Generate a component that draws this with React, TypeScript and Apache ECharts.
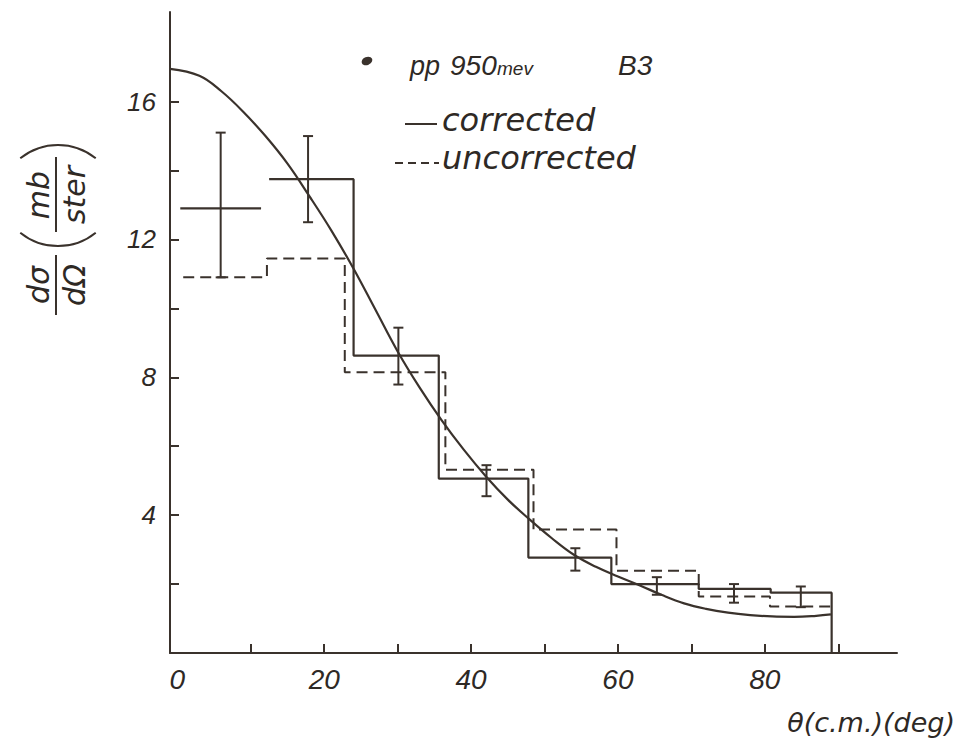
import React, { useEffect, useRef } from "react";
import * as echarts from "echarts";

// ---- data ----
const xTickValues = [10, 20, 30, 40, 50, 60, 70, 80, 90];
const xLabelValues = [0, 20, 40, 60, 80];
const yTickValues = [2, 4, 6, 8, 10, 12, 14, 16];
const yLabelValues = [4, 8, 12, 16];

// fitted smooth curve
const curveX = [-1, 3, 6, 9, 12, 15, 18, 21, 24, 27, 30, 33, 36, 39, 42, 45, 48, 51, 54, 57, 60, 63, 66, 69, 72, 75, 78, 81, 84, 87, 89];
const curveY = [16.95, 16.75, 16.3, 15.7, 15.0, 14.2, 13.25, 12.25, 11.15, 9.95, 8.75, 7.7, 6.75, 5.9, 5.13, 4.45, 3.87, 3.33, 2.85, 2.5, 2.22, 1.96, 1.68, 1.44, 1.28, 1.17, 1.1, 1.06, 1.05, 1.08, 1.12];

// corrected histogram (solid)
const corrEdges = [12.5, 24, 35.6, 47.8, 59.1, 71, 80.8, 89.1];
const corrValues = [13.75, 8.63, 5.06, 2.77, 2.0, 1.86, 1.75];

// uncorrected histogram (dashed)
const uncEdges = [0.8, 12.2, 22.8, 36.5, 48.5, 59.8, 71, 80.7, 89.1];
const uncValues = [10.9, 11.45, 8.15, 5.32, 3.58, 2.39, 1.64, 1.35];

// error bars
const errX = [5.9, 17.8, 30.1, 42.1, 54.2, 65.3, 75.8, 84.9];
const errLow = [10.9, 12.5, 7.79, 4.55, 2.39, 1.69, 1.46, 1.33];
const errHigh = [15.1, 15.0, 9.44, 5.45, 3.04, 2.2, 2.0, 1.93];

// horizontal bar of the first point (cross)
const crossXLow = [0.4];
const crossXHigh = [11.4];
const crossY = [12.9];

const INK = "#3a322c";
const TEXT = "#2e2925";
const FONT = "DejaVu Sans";
const TICKFONT = "Liberation Sans";

function histPoints(edges: number[], values: number[], dropToZero: boolean) {
  const pts: number[][] = [];
  for (let i = 0; i < values.length; i++) {
    pts.push([edges[i], values[i]]);
    pts.push([edges[i + 1], values[i]]);
  }
  if (dropToZero) pts.push([edges[edges.length - 1], 0]);
  return pts;
}

export default function App() {
  const ref = useRef<HTMLDivElement>(null);

  useEffect(() => {
    document.body.style.margin = "0";
    const chart = echarts.init(ref.current!, null, { renderer: "svg" });

    const italic = (size: number, fam: string = FONT) => `italic ${size}px "${fam}"`;
    const txt = (text: string, x: number, y: number, size: number, align: string, valign: string, fam: string = FONT) => ({
      type: "text",
      style: {
        text,
        x,
        y,
        font: italic(size, fam),
        fill: TEXT,
        textAlign: align,
        textVerticalAlign: valign,
        align,
        verticalAlign: valign,
      },
    });

    const option: any = {
      animation: false,
      backgroundColor: "#ffffff",
      grid: { left: 170, right: 65, top: 12, bottom: 97, containLabel: false },
      xAxis: {
        type: "value",
        min: -1,
        max: 98,
        axisLine: { show: true, onZero: false, lineStyle: { color: INK, width: 2 } },
        axisTick: { show: true, inside: true, length: 9, customValues: xTickValues, lineStyle: { color: INK, width: 2 } },
        axisLabel: {
          show: true,
          customValues: xLabelValues,
          margin: 12,
          color: TEXT,
          fontSize: 28,
          fontStyle: "italic",
          fontFamily: TICKFONT,
        },
        splitLine: { show: false },
      },
      yAxis: {
        type: "value",
        min: 0,
        max: 18.6,
        axisLine: { show: true, onZero: false, lineStyle: { color: INK, width: 2 } },
        axisTick: { show: true, inside: true, length: 9, customValues: yTickValues, lineStyle: { color: INK, width: 2 } },
        axisLabel: {
          show: true,
          customValues: yLabelValues,
          margin: 14,
          color: TEXT,
          fontSize: 26,
          fontStyle: "italic",
          fontFamily: TICKFONT,
        },
        splitLine: { show: false },
      },
      series: [
        {
          name: "fit",
          type: "line",
          data: curveX.map((x, i) => [x, curveY[i]]),
          smooth: 0.4,
          showSymbol: false,
          lineStyle: { color: INK, width: 2.2 },
          z: 3,
        },
        {
          name: "corrected",
          type: "line",
          data: histPoints(corrEdges, corrValues, true),
          showSymbol: false,
          lineStyle: { color: INK, width: 2.2 },
          z: 2,
        },
        {
          name: "uncorrected",
          type: "line",
          data: histPoints(uncEdges, uncValues, false),
          showSymbol: false,
          lineStyle: { color: INK, width: 2, type: [11, 6] },
          z: 2,
        },
        {
          name: "cross",
          type: "line",
          data: [
            [crossXLow[0], crossY[0]],
            [crossXHigh[0], crossY[0]],
          ],
          showSymbol: false,
          lineStyle: { color: INK, width: 2.2 },
          z: 4,
        },
        {
          name: "errors",
          type: "custom",
          data: errX.map((x, i) => [x, errLow[i], errHigh[i]]),
          encode: { x: 0, y: [1, 2] },
          z: 4,
          renderItem: (params: any, api: any) => {
            const x = api.value(0);
            const lo = api.value(1);
            const hi = api.value(2);
            const a = api.coord([x, lo]);
            const b = api.coord([x, hi]);
            const style = { stroke: INK, lineWidth: 2 };
            return {
              type: "group",
              children: [
                { type: "line", shape: { x1: a[0], y1: a[1], x2: b[0], y2: b[1] }, style },
                { type: "line", shape: { x1: b[0] - 5, y1: b[1], x2: b[0] + 5, y2: b[1] }, style },
                { type: "line", shape: { x1: a[0] - 5, y1: a[1], x2: a[0] + 5, y2: a[1] }, style },
              ],
            };
          },
        },
      ],
      graphic: [
        // legend block
        {
          type: "ellipse",
          x: 367,
          y: 61,
          rotation: 0.4,
          shape: { cx: 0, cy: 0, rx: 5.5, ry: 4 },
          style: { fill: INK },
        },
        txt("pp", 410, 79, 27, "left", "bottom", TICKFONT),
        txt("950", 450, 79, 28, "left", "bottom", TICKFONT),
        txt("mev", 497, 78, 19, "left", "bottom", TICKFONT),
        txt("B3", 618, 79, 28, "left", "bottom", TICKFONT),
        { type: "line", shape: { x1: 405, y1: 124, x2: 437, y2: 124 }, style: { stroke: INK, lineWidth: 2 } },
        txt("corrected", 442, 120, 32, "left", "middle"),
        { type: "line", shape: { x1: 395, y1: 163, x2: 439, y2: 163 }, style: { stroke: INK, lineWidth: 2, lineDash: [8, 5] } },
        txt("uncorrected", 442, 158, 32, "left", "middle"),
        // x axis title
        txt("θ(c.m.)(deg)", 955, 722, 27, "right", "middle"),
        // y axis title (rotated fraction)
        {
          type: "group",
          x: 56,
          y: 318,
          rotation: Math.PI / 2,
          children: [
            txt("dσ", 33, -3, 30, "center", "bottom"),
            { type: "line", shape: { x1: 3, y1: 0, x2: 63, y2: 0 }, style: { stroke: INK, lineWidth: 2 } },
            txt("dΩ", 33, 3, 30, "center", "top"),
            { type: "arc", shape: { cx: 132, cy: 2, r: 60, startAngle: Math.PI - 0.68, endAngle: Math.PI + 0.68 }, style: { stroke: INK, lineWidth: 2, fill: "none" } },
            txt("mb", 123, -3, 30, "center", "bottom"),
            { type: "line", shape: { x1: 86, y1: 0, x2: 161, y2: 0 }, style: { stroke: INK, lineWidth: 2 } },
            txt("ster", 123, 3, 30, "center", "top"),
            { type: "arc", shape: { cx: 113, cy: 2, r: 60, startAngle: -0.68, endAngle: 0.68 }, style: { stroke: INK, lineWidth: 2, fill: "none" } },
          ],
        },
      ],
    };

    chart.setOption(option);
    return () => chart.dispose();
  }, []);

  return <div ref={ref} style={{ width: 962, height: 750 }} />;
}
